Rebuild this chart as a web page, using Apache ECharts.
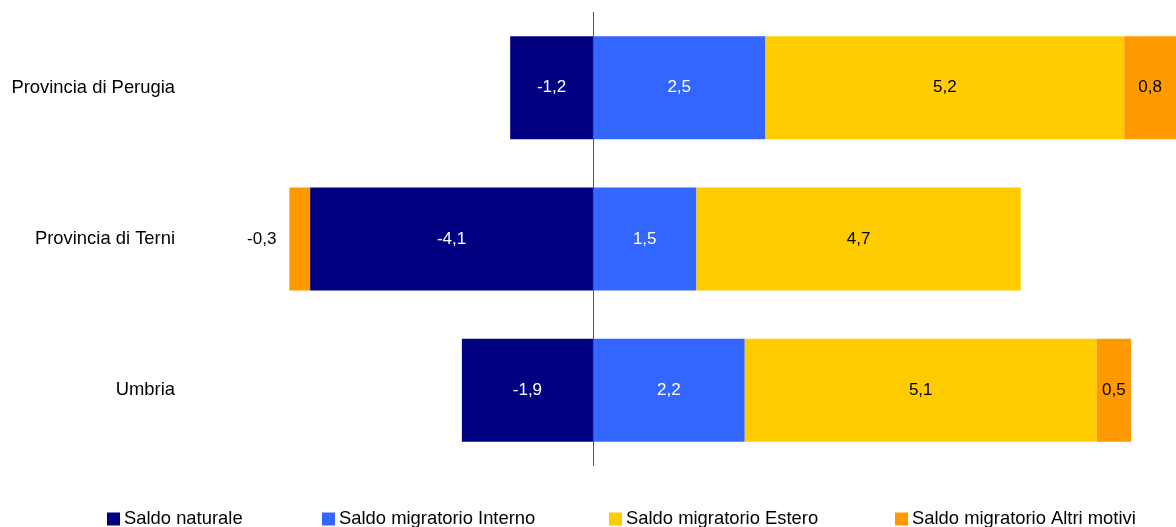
<!DOCTYPE html>
<html>
<head>
<meta charset="utf-8">
<script src="https://cdn.jsdelivr.net/npm/echarts@6/dist/echarts.min.js"></script>
<style>
  html, body { margin: 0; padding: 0; background: #fff; }
  #chart { width: 1176px; height: 527px; }
</style>
</head>
<body>
<div id="chart"></div>
<script>
const categories = ["Provincia di Perugia", "Provincia di Terni", "Umbria"];
const seriesNames = ["Saldo naturale", "Saldo migratorio Interno", "Saldo migratorio Estero", "Saldo migratorio Altri motivi"];
const saldoNaturale = [-1.2, -4.1, -1.9];
const saldoInterno = [2.5, 1.5, 2.2];
const saldoEstero = [5.2, 4.7, 5.1];
const saldoAltri = [0.8, -0.3, 0.5];

const colors = ["#000080", "#3366ff", "#ffcc00", "#ff9900"];
const labelColors = ["#fff", "#fff", "#000", "#000"];
const font = "'Liberation Sans', Arial, sans-serif";

const chart = echarts.init(document.getElementById("chart"));

const fmt = (p) => p.value.toFixed(1).replace(".", ",");

const makeSeries = (name, values, i) => {
  const s = {
    name: name,
    type: "bar",
    stack: "saldo",
    barWidth: 103,
    itemStyle: { color: colors[i] },
    label: {
      show: true,
      position: "inside",
      color: labelColors[i],
      fontSize: 17,
      fontFamily: font,
      formatter: fmt
    },
    data: values.map((v) => {
      // narrow bars: label sits outside on the left
      if (Math.abs(v) < 0.4) {
        return { value: v, label: { position: "left", distance: 13 } };
      }
      return v;
    })
  };
  if (i === 0) {
    s.markLine = {
      silent: true,
      symbol: "none",
      label: { show: false },
      lineStyle: { color: "#555", width: 1, type: "solid" },
      data: [{ xAxis: 0 }]
    };
  }
  return s;
};

const legendLeft = [107, 322, 609, 895];

const option = {
  animation: false,
  textStyle: { fontFamily: font },
  grid: { left: 179, right: 0, top: 12, bottom: 61 },
  legend: seriesNames.map((n, i) => ({
    data: [n],
    left: legendLeft[i],
    top: 510,
    icon: "rect",
    itemWidth: 13,
    itemHeight: 13,
    itemGap: 4,
    textStyle: { fontSize: 18.4, color: "#000", fontFamily: font, padding: [0, 0, 0, -1] },
    padding: 0,
    selectedMode: false
  })),
  xAxis: {
    type: "value",
    min: -6,
    max: 8.45,
    show: false
  },
  yAxis: {
    type: "category",
    inverse: true,
    data: categories,
    axisLine: { show: false },
    axisTick: { show: false },
    axisLabel: { fontSize: 18.4, color: "#000", fontFamily: font, margin: 4 }
  },
  series: [
    makeSeries(seriesNames[0], saldoNaturale, 0),
    makeSeries(seriesNames[1], saldoInterno, 1),
    makeSeries(seriesNames[2], saldoEstero, 2),
    makeSeries(seriesNames[3], saldoAltri, 3)
  ]
};

chart.setOption(option);
</script>
</body>
</html>
